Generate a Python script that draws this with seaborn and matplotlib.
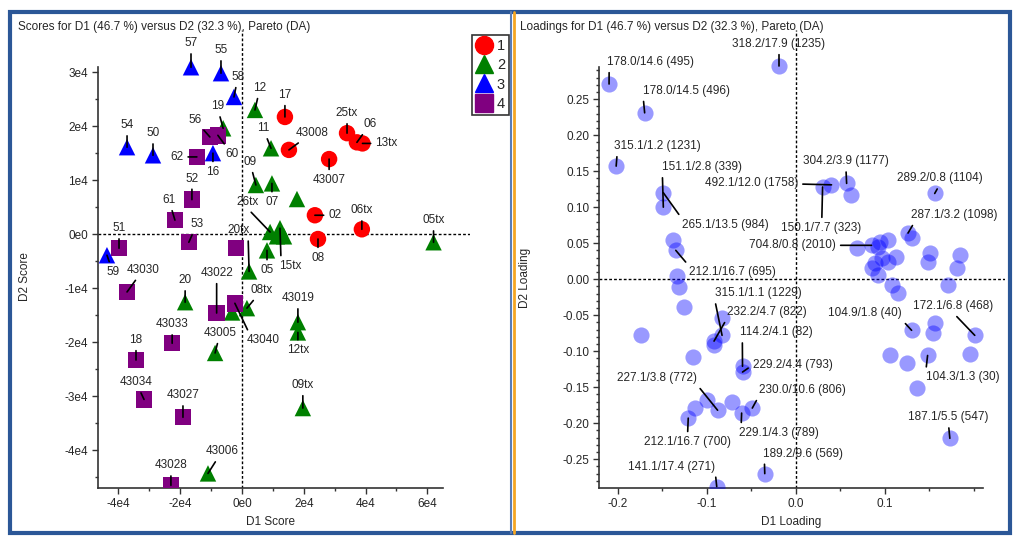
import numpy as np
import pandas as pd
import seaborn as sns
import matplotlib.pyplot as plt
from matplotlib.lines import Line2D
from matplotlib.patches import Rectangle
from matplotlib.ticker import FixedLocator, FuncFormatter

# ---- score plot data (D1 / D2 scores) ----
score_labels = ['17', '43008', '25tx', '06', '13tx', '43007', '02', '08', '06tx',
                '12', '11', '09', '07', '', '19', '05tx', '26tx', '05', '15tx', '', '',
                '20tx', '08tx', '', '43019', '12tx', '09tx', '20', '43005', '43006',
                '57', '55', '58', '54', '50', '16', '59',
                '56', '60', '62', '52', '61', '53', '51', '', '43030', '43022', '43040',
                '43033', '18', '43034', '43027', '43028']
d1_score = [13900, 15200, 34000, 37200, 39000, 28200, 23600, 24600, 38800,
            4200, 9400, 4500, 9700, 17800, -6100, 62000, 9100, 8100, 12300, 11300, 13600,
            2300, 1600, -3200, 18100, 18100, 19700, -18400, -8700, -11000,
            -16500, -6800, -2600, -37200, -28800, -9400, -43700,
            -10400, -7800, -14600, -16200, -21700, -17200, -39800, -2000, -37200, -8200, -2300,
            -22600, -34300, -31700, -19100, -23000]
d2_score = [21700, 15600, 18700, 17000, 16800, 13900, 3500, -900, 900,
            23000, 15900, 9100, 9400, 6500, 19600, -1500, 400, -3000, 1100, -400, -400,
            -6900, -13700, -14500, -16300, -18200, -32200, -12600, -22000, -44300,
            30900, 29800, 25400, 16100, 14600, 15000, -3900,
            18000, 18300, 14300, 6400, 2600, -1500, -2600, -2600, -10700, -14600, -12800,
            -20200, -23300, -30600, -33900, -46500]
score_group = ['1'] * 9 + ['2'] * 21 + ['3'] * 7 + ['4'] * 16

# ---- loading plot data ----
load_labels = ['178.0/14.6 (495)', '178.0/14.5 (496)', '315.1/1.2 (1231)', '151.1/2.8 (339)',
               '265.1/13.5 (984)', '', '212.1/16.7 (695)', '318.2/17.9 (1235)',
               '150.1/7.7 (323)', '492.1/12.0 (1758)', '304.2/3.9 (1177)', '',
               '289.2/0.8 (1104)', '', '704.8/0.8 (2010)', '', '', '', '', '', '', '', '', '', '',
               '287.1/3.2 (1098)', '', '', '', '', '', '',
               '104.9/1.8 (40)', '', '', '172.1/6.8 (468)', '', '104.3/1.3 (30)', '', '', '',
               '187.1/5.5 (547)', '189.2/9.6 (569)', '141.1/17.4 (271)',
               '', '', '', '', '', '315.1/1.1 (1229)', '232.2/4.7 (822)', '',
               '114.2/4.1 (82)', '229.2/4.4 (793)', '', '', '', '212.1/16.7 (700)',
               '227.1/3.8 (772)', '', '229.1/4.3 (789)', '230.0/10.6 (806)', '']
d1_load = [-0.210, -0.170, -0.202, -0.149, -0.149, -0.138, -0.135, -0.019,
           0.030, 0.040, 0.057, 0.062, 0.156, 0.069, 0.085, 0.092, 0.094, 0.103, 0.097, 0.103,
           0.113, 0.085, 0.089, 0.092, 0.108, 0.126, 0.115, 0.130, 0.151, 0.148, 0.184, 0.181,
           0.130, 0.156, 0.154, 0.201, 0.196, 0.148, 0.106, 0.125, 0.136,
           0.173, -0.035, -0.089,
           -0.134, -0.131, -0.126, -0.174, -0.083, -0.083, -0.092, -0.092,
           -0.060, -0.060, -0.116, -0.100, -0.113, -0.121,
           -0.088, -0.072, -0.061, -0.049, 0.171]
d2_load = [0.271, 0.231, 0.157, 0.100, 0.120, 0.055, 0.040, 0.296,
           0.128, 0.131, 0.133, 0.117, 0.119, 0.043, 0.047, 0.044, 0.051, 0.054, 0.029, 0.024,
           0.031, 0.015, 0.022, 0.006, -0.008, 0.064, -0.019, 0.057, 0.036, 0.024, 0.033, 0.015,
           -0.071, -0.061, -0.075, -0.078, -0.104, -0.106, -0.106, -0.117, -0.151,
           -0.221, -0.270, -0.288,
           0.004, -0.011, -0.039, -0.078, -0.054, -0.078, -0.086, -0.092,
           -0.121, -0.129, -0.108, -0.168, -0.179, -0.193,
           -0.182, -0.171, -0.186, -0.179, -0.008]

# label offsets in pixels (dx, dy) and optional leader start on the text box (rx, ry)
score_off = {'17': (0, 22), '43008': (23, 17), '25tx': (0, 20), '06': (13, 18), '13tx': (24, 0),
             '43007': (0, -21), '02': (20, 0), '08': (0, -19), '06tx': (0, 19), '12': (5, 22),
             '11': (-8, 20), '09': (-6, 23), '07': (0, -19), '05tx': (0, 22),
             '26tx': (-23, 30, 0.5, 0), '05': (0, -20), '15tx': (10, -38, 0.1, 1),
             '20tx': (-11, 41, 0.95, 0), '08tx': (15, 18),
             '43019': (0, 24), '12tx': (0, -18), '09tx': (0, 23), '20': (0, 22), '43005': (5, 20),
             '43006': (14, 22), '57': (0, 24), '55': (0, 23), '58': (4, 20), '54': (0, 22),
             '50': (0, 22), '16': (0, -19), '59': (6, -17), '19': (-6, 22), '56': (-15, 17),
             '60': (14, -19), '62': (-20, 0), '52': (0, 21), '61': (-6, 20), '53': (8, 18),
             '51': (0, 20), '43030': (16, 22), '43022': (0, 40), '43040': (28, -37, 0.1, 1),
             '43033': (0, 19), '18': (0, 20), '43034': (-8, 17), '43027': (0, 22), '43028': (0, 20)}
load_off = {'178.0/14.6 (495)': (41, 22, 0.03, 0), '178.0/14.5 (496)': (42, 22, 0.0, 0),
            '315.1/1.2 (1231)': (41, 20, 0.04, 0), '151.1/2.8 (339)': (39, 40, 0.0, 0),
            '265.1/13.5 (984)': (62, -32, 0.0, 1), '212.1/16.7 (695)': (57, -22, 0.0, 1),
            '318.2/17.9 (1235)': (0, 22), '492.1/12.0 (1758)': (-80, 2),
            '150.1/7.7 (323)': (-1, -41), '304.2/3.9 (1177)': (-1, 22),
            '289.2/0.8 (1104)': (5, 15, 0.5, 0), '287.1/3.2 (1098)': (46, 18, 0.05, 0),
            '704.8/0.8 (2010)': (-79, 0), '104.9/1.8 (40)': (-47, 17, 1, 0),
            '172.1/6.8 (468)': (-22, 29, 0.5, 0), '104.3/1.3 (30)': (35, -22, 0.0, 1),
            '187.1/5.5 (547)': (-2, 21), '189.2/9.6 (569)': (38, 20, 0.02, 0),
            '141.1/17.4 (271)': (-45, 20, 1, 0), '315.1/1.1 (1229)': (36, 42, 0.0, 0),
            '232.2/4.7 (822)': (53, 29, 0.0, 0), '114.2/4.1 (82)': (34, 34, 0.03, 0),
            '229.2/4.4 (793)': (50, 7, 0.0, 0.5), '230.0/10.6 (806)': (50, 18, 0.0, 0),
            '229.1/4.3 (789)': (37, -20, 0.03, 1), '227.1/3.8 (772)': (-61, 32, 1, 0),
            '212.1/16.7 (700)': (-1, -24)}

scores = pd.DataFrame({'label': score_labels, 'D1': d1_score, 'D2': d2_score, 'group': score_group})
loads = pd.DataFrame({'label': load_labels, 'D1': d1_load, 'D2': d2_load})

sns.set_style('white')
plt.rcParams['font.family'] = ['Liberation Sans', 'DejaVu Sans']
txt_col = '#262626'
fs = 8.5

W, H = 1024, 548
fig = plt.figure(figsize=(W / 100, H / 100), dpi=100)


def px_axes(l, r, t, b):
    return fig.add_axes([l / W, 1 - b / H, (r - l) / W, (b - t) / H])


def style_axes(ax):
    for s in ['top', 'right']:
        ax.spines[s].set_visible(False)
    for s in ['left', 'bottom']:
        ax.spines[s].set_color('#333333')
        ax.spines[s].set_linewidth(1.2)
    ax.tick_params(which='major', direction='out', length=4, width=1, colors='#333333',
                   labelcolor=txt_col, labelsize=fs, left=True, bottom=True, pad=3)
    ax.tick_params(which='minor', direction='out', length=2, width=1, colors='#333333',
                   left=True, bottom=True)
    ax.axhline(0, color='black', lw=1, ls=(0, (2, 1.5)), zorder=1)
    ax.axvline(0, color='black', lw=1, ls=(0, (2, 1.5)), zorder=1)


def put_labels(ax, df, offsets):
    for lab, x, y in zip(df['label'], df['D1'], df['D2']):
        if not lab:
            continue
        o = offsets[lab]
        rel = (o[2], o[3]) if len(o) > 2 else (0.5, 0.5)
        ax.annotate(lab, (x, y), xytext=(o[0], o[1]), textcoords='offset pixels',
                    ha='center', va='center', fontsize=fs, color=txt_col, zorder=5,
                    arrowprops=dict(arrowstyle='-', color='black', lw=1.2, relpos=rel,
                                    shrinkA=1, shrinkB=0))


# ---------------- left: scores ----------------
ax1 = px_axes(98, 470, 30, 488)
pal = {'1': '#FF0000', '2': '#008000', '3': '#0000FF', '4': '#800080'}
mk = {'1': 'o', '2': '^', '3': '^', '4': 's'}
sns.scatterplot(data=scores, x='D1', y='D2', hue='group', style='group', palette=pal,
                markers=mk, s=140, linewidth=0, legend=False, ax=ax1, zorder=3)
ax1.set_xlim(-46600, 73800)
ax1.set_ylim(-47000, 37800)
style_axes(ax1)
ax1.spines['left'].set_bounds(-47000, 30900)
ax1.spines['bottom'].set_bounds(-46600, 65000)
ax1.set_xticks([-40000, -20000, 0, 20000, 40000, 60000])
ax1.set_yticks([-40000, -30000, -20000, -10000, 0, 10000, 20000, 30000])
ax1.xaxis.set_minor_locator(FixedLocator([-30000, -10000, 10000, 30000, 50000]))
ax1.yaxis.set_minor_locator(FixedLocator([-45000, -35000, -25000, -15000, -5000,
                                          5000, 15000, 25000]))
sfmt = FuncFormatter(lambda v, p: '0e0' if v == 0 else '%de4' % round(v / 1e4))
ax1.xaxis.set_major_formatter(sfmt)
ax1.yaxis.set_major_formatter(sfmt)
ax1.set_xlabel('D1 Score', fontsize=fs, color=txt_col)
ax1.set_ylabel('D2 Score', fontsize=fs, color=txt_col)
ax1.xaxis.set_label_coords((270 - 98) / 372, (488 - 516) / 458)
ax1.yaxis.set_label_coords((31 - 98) / 372, (488 - 277) / 458)
put_labels(ax1, scores, score_off)

handles = [Line2D([], [], ls='', marker=mk[g], color=pal[g], markersize=13) for g in ['1', '2', '3', '4']]
leg = ax1.legend(handles, ['1', '2', '3', '4'], loc='upper left',
                 bbox_to_anchor=(472 / W, 1 - 35 / H), bbox_transform=fig.transFigure,
                 frameon=True, fancybox=False, edgecolor='black', fontsize=fs + 2,
                 handlelength=1.1, handletextpad=0.3, borderpad=0.3, labelspacing=0.35,
                 borderaxespad=0)
leg.get_frame().set_linewidth(1.2)

# ---------------- right: loadings ----------------
ax2 = px_axes(599, 1005, 30, 488)
sns.scatterplot(data=loads, x='D1', y='D2', color='#0000FF', alpha=0.4, s=135,
                linewidth=0, ax=ax2, zorder=3)
ax2.set_xlim(-0.2213, 0.235)
ax2.set_ylim(-0.290, 0.346)
style_axes(ax2)
ax2.spines['left'].set_bounds(-0.290, 0.294)
ax2.spines['bottom'].set_bounds(-0.2213, 0.210)
ax2.set_xticks([-0.2, -0.1, 0.0, 0.1])
ax2.xaxis.set_minor_locator(FixedLocator([-0.15, -0.05, 0.05, 0.15, 0.2]))
ax2.set_yticks(np.round(np.arange(-0.25, 0.26, 0.05), 2))
ax2.yaxis.set_minor_locator(FixedLocator(np.round(np.arange(-0.28, 0.295, 0.01), 2)))
ax2.xaxis.set_major_formatter(FuncFormatter(lambda v, p: '%.1f' % (round(v, 1) + 0.0)))
ax2.yaxis.set_major_formatter(FuncFormatter(lambda v, p: '%.2f' % (round(v, 2) + 0.0)))
ax2.set_xlabel('D1 Loading', fontsize=fs, color=txt_col)
ax2.set_ylabel('D2 Loading', fontsize=fs, color=txt_col)
ax2.xaxis.set_label_coords((791 - 599) / 406, (488 - 516) / 458)
ax2.yaxis.set_label_coords((531 - 599) / 406, (488 - 278) / 458)
put_labels(ax2, loads, load_off)

# ---------------- titles and frames ----------------
fig.text(18 / W, 1 - 27 / H, 'Scores for D1 (46.7 %) versus D2 (32.3 %), Pareto (DA)',
         fontsize=fs, color=txt_col, va='center', ha='left')
fig.text(520 / W, 1 - 27 / H, 'Loadings for D1 (46.7 %) versus D2 (32.3 %), Pareto (DA)',
         fontsize=fs, color=txt_col, va='center', ha='left')

fig.patches.append(Rectangle((10 / W, 1 - 533 / H), 1000 / W, 521 / H, fill=False,
                             edgecolor='#2B5797', lw=3, transform=fig.transFigure))
fig.lines.append(Line2D([511 / W, 511 / W], [1 - 533 / H, 1 - 12 / H], color='#5B7DB5',
                        lw=1.5, transform=fig.transFigure))
fig.lines.append(Line2D([514 / W, 514 / W], [1 - 533 / H, 1 - 12 / H], color='#F5A623',
                        lw=2, transform=fig.transFigure))

fig.savefig('out.png', dpi=100)
